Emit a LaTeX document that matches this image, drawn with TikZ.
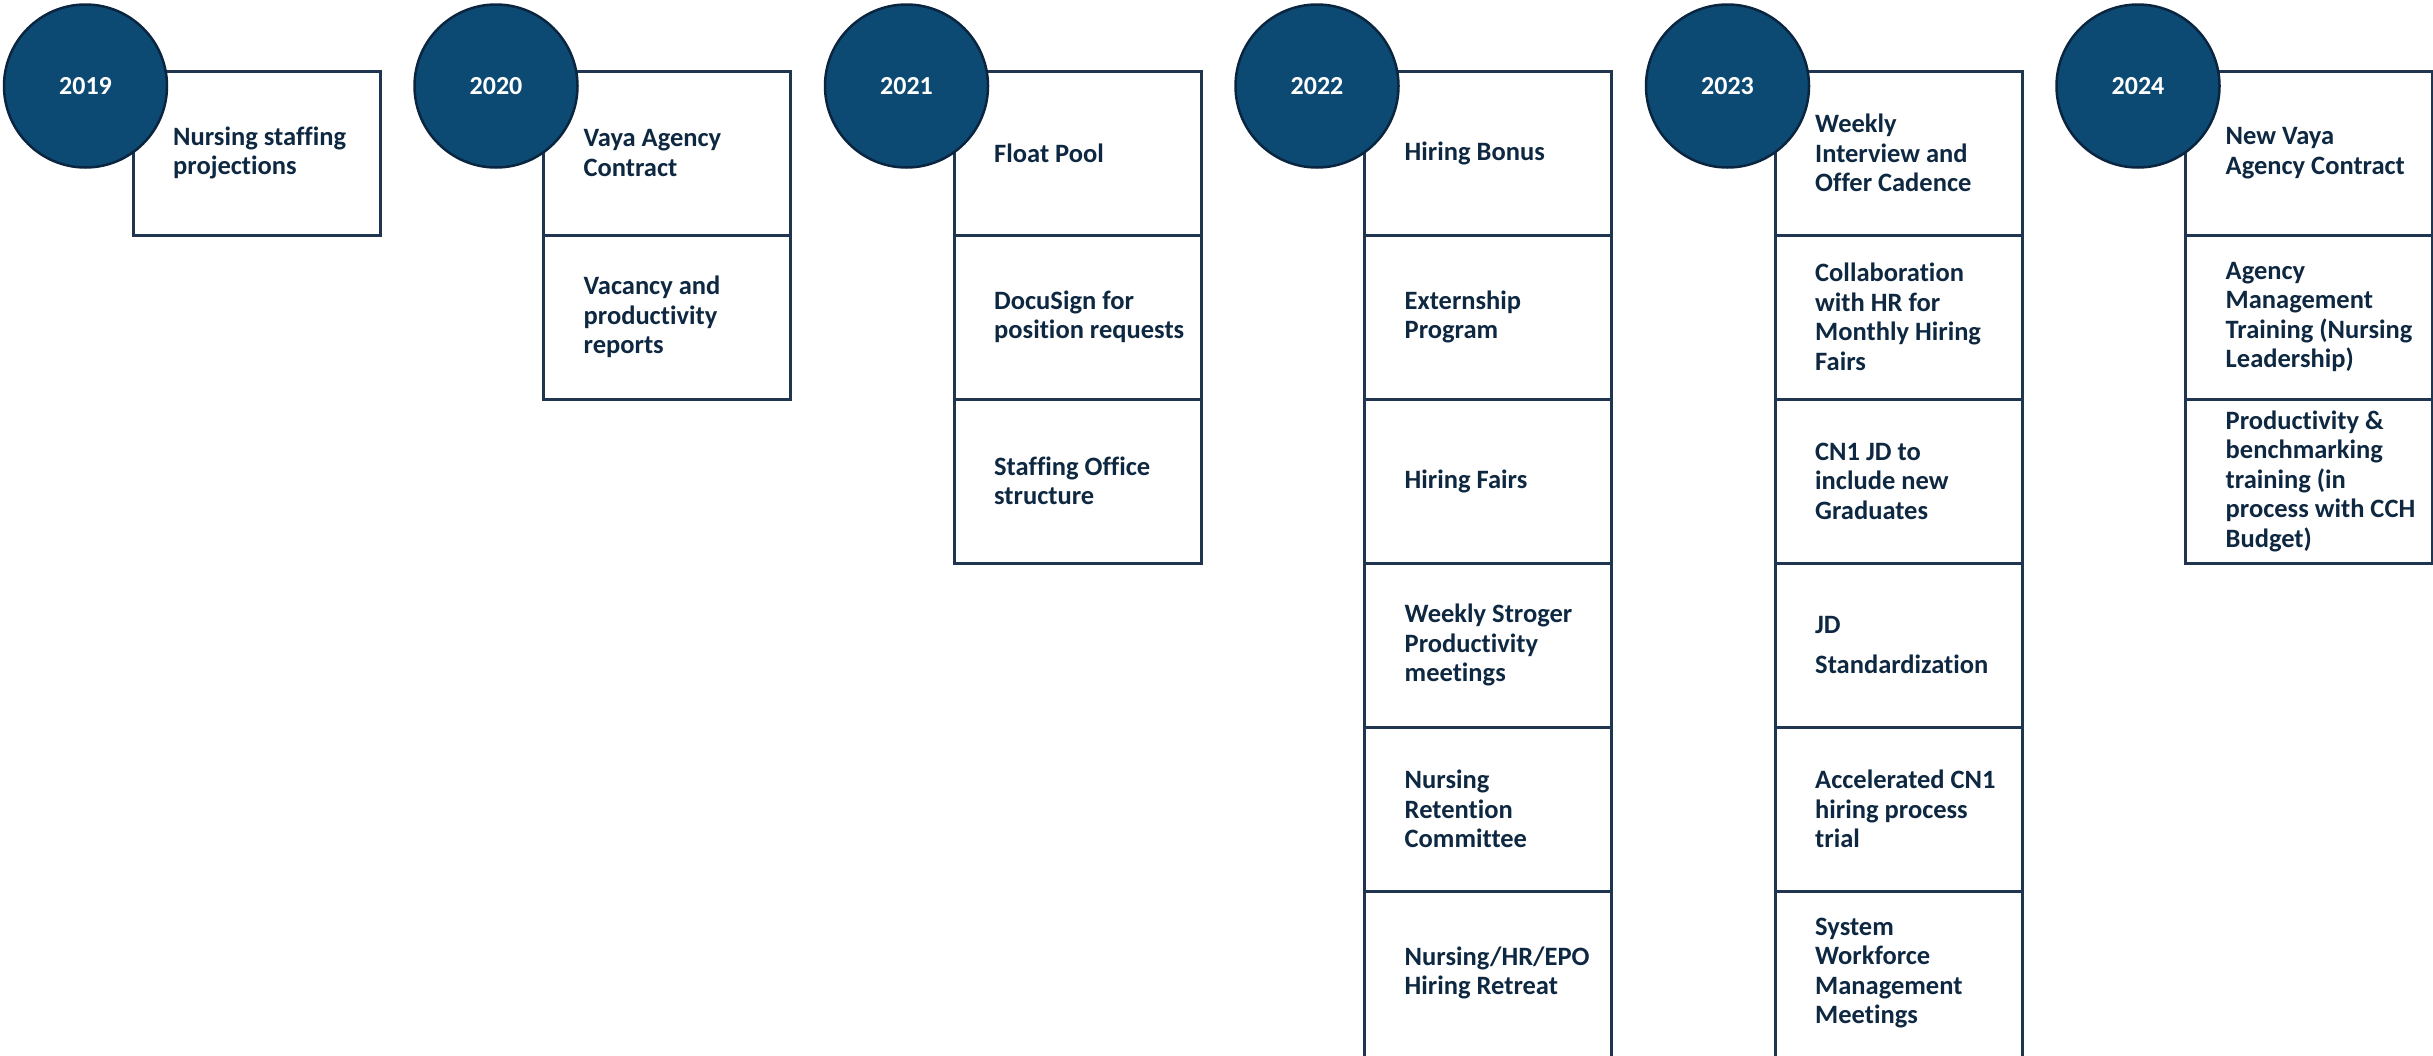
\documentclass[tikz,border=0pt]{standalone}
\usepackage{fontspec}
\setmainfont{Carlito}[Ligatures=NoCommon]
\usetikzlibrary{calc}

\definecolor{yearfill}{HTML}{0D4A73}
\definecolor{yearedge}{HTML}{0A2540}
\definecolor{gridline}{HTML}{1F3550}
\definecolor{itemtext}{HTML}{0E2841}

\tikzset{
  cell/.style={draw=gridline, line width=3pt, minimum width=247pt,
    minimum height=164pt, anchor=north west, inner sep=0pt, outer sep=0pt},
  item/.style={anchor=west, align=left, inner sep=0pt, text=itemtext,
    font=\fontsize{26.5}{29.5}\selectfont\bfseries},
  year/.style={circle, fill=yearfill, draw=yearedge, line width=2.5pt,
    minimum size=163pt, inner sep=0pt, text=white,
    font=\fontsize{26}{29}\selectfont\bfseries},
}

% one cell of a year's column: [extra cell options]{column}{row}{name}{text}
\newcommand{\itembox}[5][]{%
  \node[cell,#1] (#4) at ({133+410.5*#2},{71+164*#3}) {};
  \node[item] (#4t) at ($(#4.north west)+(40,82)$) {#5};
}

\begin{document}
\begin{tikzpicture}[x=1pt,y=-1pt]
  \useasboundingbox (0,0) rectangle (2433,1055);

  % 2019
  \itembox{0}{0}{a1}{Nursing staffing\\projections}
  % 2020
  \itembox{1}{0}{b1}{Vaya Agency\\Contract}
  \itembox{1}{1}{b2}{Vacancy and\\productivity\\reports}
  % 2021
  \itembox{2}{0}{c1}{Float Pool}
  \itembox{2}{1}{c2}{DocuSign for\\position requests}
  \itembox{2}{2}{c3}{Staffing Office\\structure}
  % 2022
  \itembox{3}{0}{d1}{Hiring Bonus}
  \itembox{3}{1}{d2}{Externship\\Program}
  \itembox{3}{2}{d3}{Hiring Fairs}
  \itembox{3}{3}{d4}{Weekly Stroger\\Productivity\\meetings}
  \itembox{3}{4}{d5}{Nursing\\Retention\\Committee}
  \itembox[minimum height=172pt]{3}{5}{d6}{Nursing/HR/EPO\\Hiring Retreat}
  % 2023
  \itembox{4}{0}{e1}{Weekly\\Interview and\\Offer Cadence}
  \itembox{4}{1}{e2}{Collaboration\\with HR for\\Monthly Hiring\\Fairs}
  \itembox{4}{2}{e3}{CN1 JD to\\include new\\Graduates}
  \itembox{4}{3}{e4}{JD\\[11pt]Standardization}
  \itembox{4}{4}{e5}{Accelerated CN1\\hiring process\\trial}
  \itembox[minimum height=172pt]{4}{5}{e6}{System\\Workforce\\Management\\Meetings}
  % 2024
  \itembox{5}{0}{f1}{New Vaya\\Agency Contract}
  \itembox{5}{1}{f2}{Agency\\Management\\Training (Nursing\\Leadership)}
  \itembox{5}{2}{f3}{Productivity \&\\benchmarking\\training (in\\process with CCH\\Budget)}

  % year markers overlapping the top-left corner of each column
  \foreach \yr [count=\i from 0] in {2019,2020,2021,2022,2023,2024}
    \node[year] (y\yr) at ({85.5+410.5*\i},86) {\yr};
\end{tikzpicture}
\end{document}
